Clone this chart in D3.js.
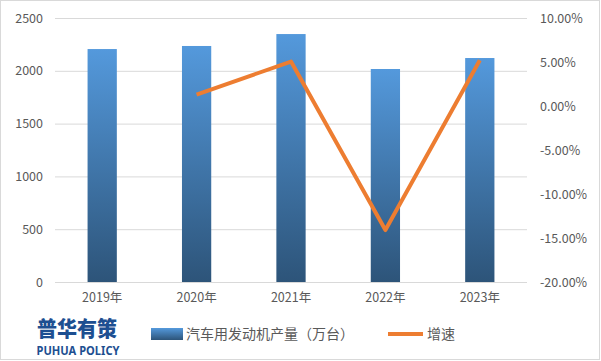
<!DOCTYPE html>
<html><head><meta charset="utf-8">
<script src="https://cdn.jsdelivr.net/npm/d3@7"></script>
<style>body{margin:0;background:#fff;}svg{display:block;}</style>
</head><body>
<svg id="chart" width="601" height="361"></svg>
<script>
const categories = ["2019年","2020年","2021年","2022年","2023年"];
const production = [2206, 2235, 2348, 2017, 2121];
const growth = [null, 1.3, 5.05, -14.1, 5.2];
const leftTicks = [0, 500, 1000, 1500, 2000, 2500];
const rightTicks = [-20, -15, -10, -5, 0, 5, 10];
const seriesNames = ["汽车用发动机产量（万台）", "增速"];
const logoCn = "普华有策";
const logoEn = "PUHUA POLICY";

const svg = d3.select("#chart");
const font = "'Microsoft YaHei','Noto Sans CJK SC','DejaVu Sans',sans-serif";
const textColor = "#595959";

svg.append("rect").attr("x",0.5).attr("y",0.5).attr("width",599).attr("height",359)
  .attr("fill","#fff").attr("stroke","#d9d9d9");

const defs = svg.append("defs");
const grad = defs.append("linearGradient").attr("id","barGrad").attr("x1",0).attr("y1",0).attr("x2",0).attr("y2",1);
grad.append("stop").attr("offset","0%").attr("stop-color","#5499dc");
grad.append("stop").attr("offset","100%").attr("stop-color","#2d5479");

const x = d3.scaleBand().domain(categories).range([55, 527]).paddingInner(0.69).paddingOuter(0.345);
const yL = d3.scaleLinear().domain([0, 2500]).range([282, 18]);
const yR = d3.scaleLinear().domain([-20, 10]).range([282, 18]);

// gridlines
svg.append("g").selectAll("line").data(leftTicks).join("line")
  .attr("x1",55).attr("x2",527).attr("y1",d=>yL(d)+0.5).attr("y2",d=>yL(d)+0.5)
  .attr("stroke","#d9d9d9").attr("stroke-width",1);

// left axis
const gL = svg.append("g").attr("transform","translate(43,0)")
  .call(d3.axisLeft(yL).tickValues(leftTicks).tickSize(0).tickPadding(0).tickFormat(d3.format("d")));
gL.select(".domain").remove();
gL.selectAll("text").attr("fill",textColor).style("font-size","12.5px").style("font-family",font);

// right axis
const gR = svg.append("g").attr("transform","translate(540,0)")
  .call(d3.axisRight(yR).tickValues(rightTicks).tickSize(0).tickPadding(0).tickFormat(d=>d.toFixed(2)+"%"));
gR.select(".domain").remove();
gR.selectAll("text").attr("fill",textColor).style("font-size","12.5px").style("font-family",font);

// x axis
const gX = svg.append("g").attr("transform","translate(0,282)")
  .call(d3.axisBottom(x).tickSize(0).tickPadding(11));
gX.select(".domain").remove();
gX.selectAll("text").attr("fill",textColor).style("font-size","12.5px").style("font-family",font);

// bars
svg.append("g").selectAll("rect").data(production).join("rect")
  .attr("x",(d,i)=>x(categories[i])).attr("width",x.bandwidth())
  .attr("y",d=>yL(d)).attr("height",d=>yL(0)-yL(d))
  .attr("fill","url(#barGrad)");

// line
const lineData = growth.map((g,i)=>({c:categories[i], g})).filter(d=>d.g!==null);
svg.append("path").datum(lineData)
  .attr("d", d3.line().x(d=>x(d.c)+x.bandwidth()/2).y(d=>yR(d.g)))
  .attr("fill","none").attr("stroke","#ed7d31").attr("stroke-width",4).attr("stroke-linejoin","round");

// legend
const leg = svg.append("g");
leg.append("rect").attr("x",151).attr("y",328).attr("width",32).attr("height",12).attr("fill","url(#barGrad)");
leg.append("text").attr("x",186).attr("y",339).text(seriesNames[0])
  .attr("fill",textColor).style("font-size","14px").style("font-family",font);
leg.append("line").attr("x1",388).attr("x2",423).attr("y1",334).attr("y2",334)
  .attr("stroke","#ed7d31").attr("stroke-width",4);
leg.append("text").attr("x",427).attr("y",339).text(seriesNames[1])
  .attr("fill",textColor).style("font-size","14px").style("font-family",font);

// logo
svg.append("text").attr("x",77).attr("y",336).attr("text-anchor","middle").text(logoCn)
  .attr("fill","#1d4f91").style("font-size","21px").style("font-weight","900").style("font-family",font)
  .attr("textLength",80).attr("lengthAdjust","spacingAndGlyphs");
svg.append("text").attr("x",78).attr("y",355).attr("text-anchor","middle").text(logoEn)
  .attr("fill","#1d4f91").style("font-size","12.5px").style("font-weight","bold").style("font-family","'Noto Sans','Open Sans',sans-serif")
  .attr("textLength",83).attr("lengthAdjust","spacingAndGlyphs");
</script>
</body></html>
